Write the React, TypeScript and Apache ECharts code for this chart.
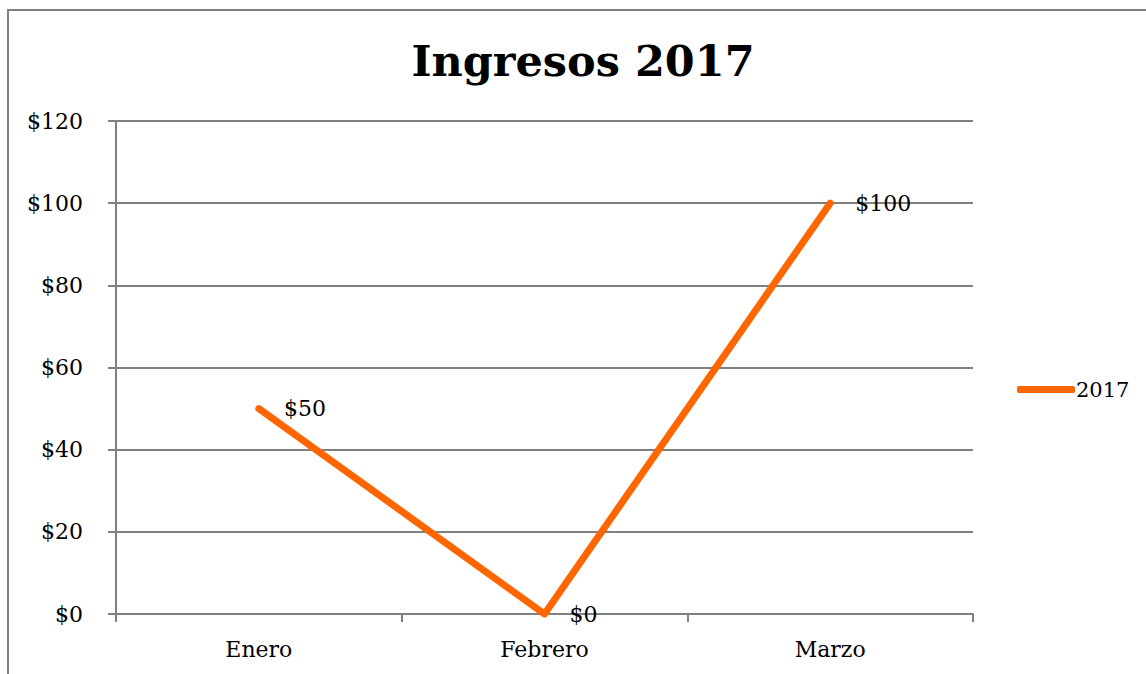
import React, { useEffect, useRef } from "react";
import * as echarts from "echarts";

const categories = ["Enero", "Febrero", "Marzo"];
const values2017 = [50, 0, 100];
const seriesName = "2017";
const titleText = "Ingresos 2017";

const FONT = "'DejaVu Serif', serif";
const GRAY = "#808080";
const ORANGE = "#FF6600";

export default function App() {
  const ref = useRef<HTMLDivElement>(null);
  useEffect(() => {
    if (!ref.current) return;
    const chart = echarts.init(ref.current, undefined, { renderer: "svg" });
    chart.setOption({
      animation: false,
      backgroundColor: "#ffffff",
      textStyle: { fontFamily: FONT, color: "#000" },
      graphic: [
        {
          type: "rect",
          shape: { x: 8, y: 10, width: 1300, height: 800 },
          style: { fill: "none", stroke: GRAY, lineWidth: 2 },
          silent: true,
        },
        {
          type: "text",
          x: 583,
          y: 61,
          style: {
            text: titleText,
            font: `bold 43px ${FONT}`,
            fill: "#000",
            textAlign: "center",
            textVerticalAlign: "middle",
          },
        },
      ],
      legend: {
        left: 1012,
        top: 374,
        icon: "roundRect",
        itemWidth: 58,
        itemHeight: 7,
        textStyle: { fontFamily: FONT, fontSize: 21, color: "#000", padding: [0, 0, 0, -4] },
        data: [seriesName],
      },
      grid: { left: 116, right: 173, top: 121, bottom: 60 },
      xAxis: {
        type: "category",
        data: categories,
        boundaryGap: true,
        axisLine: { lineStyle: { color: GRAY, width: 2 } },
        axisTick: { show: true, length: 8, lineStyle: { color: GRAY, width: 2 } },
        axisLabel: { fontFamily: FONT, fontSize: 22, color: "#000", margin: 24 },
      },
      yAxis: {
        type: "value",
        min: 0,
        max: 120,
        interval: 20,
        axisLine: { show: true, lineStyle: { color: GRAY, width: 2 } },
        axisTick: { show: true, length: 8, lineStyle: { color: GRAY, width: 2 } },
        splitLine: { show: true, lineStyle: { color: GRAY, width: 2 } },
        axisLabel: {
          fontFamily: FONT,
          fontSize: 22,
          color: "#000",
          margin: 33,
          formatter: (v: number) => "$" + v,
        },
      },
      series: [
        {
          name: seriesName,
          type: "line",
          data: values2017,
          color: ORANGE,
          symbol: "circle",
          symbolSize: 0.1,
          itemStyle: { color: ORANGE },
          lineStyle: { color: ORANGE, width: 7, cap: "round", join: "miter" },
          label: {
            show: true,
            position: "right",
            distance: 25,
            fontFamily: FONT,
            fontSize: 22,
            color: "#000",
            formatter: (p: any) => "$" + p.value,
          },
        },
      ],
    });
    return () => chart.dispose();
  }, []);
  return (
    <div
      ref={ref}
      style={{ position: "fixed", left: 0, top: 0, width: 1146, height: 674 }}
    />
  );
}
